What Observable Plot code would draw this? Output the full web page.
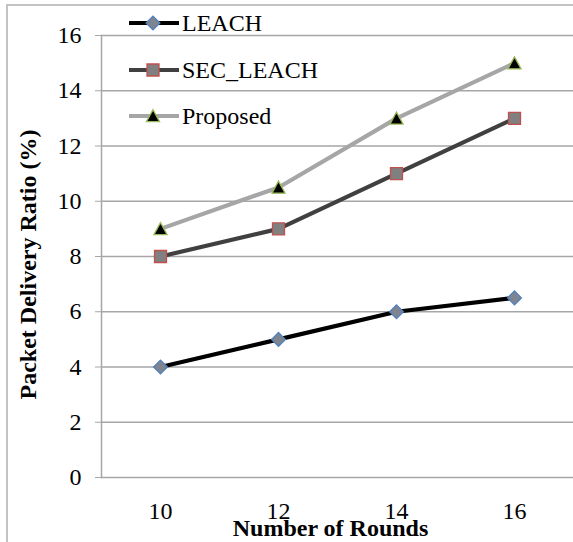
<!DOCTYPE html>
<html>
<head>
<meta charset="utf-8">
<script src="https://cdn.jsdelivr.net/npm/d3@7"></script>
<script src="https://cdn.jsdelivr.net/npm/@observablehq/plot@0.6"></script>
<style>
  html, body { margin: 0; padding: 0; background: #fff; }
  #wrap { position: relative; width: 573px; height: 542px; overflow: hidden; }
  #wrap > svg { position: absolute; left: 0; top: 0; }
  #wrap svg text { font-family: "Liberation Serif", "Times New Roman", serif; }
  #border { position: absolute; left: 6px; top: 4px; right: -10px; bottom: -10px;
            border-left: 2px solid #c3c3c3; border-top: 2px solid #c3c3c3; pointer-events: none; }
</style>
</head>
<body>
<div id="wrap"><div id="border"></div></div>
<script>
const rounds = [10, 12, 14, 16];
const seriesNames = ["LEACH", "SEC_LEACH", "Proposed"];
const leach = [4, 5, 6, 6.5];
const secLeach = [8, 9, 11, 13];
const proposed = [9, 10.5, 13, 15];
const yTicks = [0, 2, 4, 6, 8, 10, 12, 14, 16];
const xTitle = "Number of Rounds";
const yTitle = "Packet Delivery Ratio (%)";

const values = [leach, secLeach, proposed];
const data = [];
seriesNames.forEach((s, i) => rounds.forEach((r, j) => data.push({series: s, round: r, value: values[i][j]})));

// custom symbols (size = pi r^2)
const sq = {draw(ctx, size) { const r = Math.sqrt(size / Math.PI); const h = r; ctx.moveTo(-h, -h); ctx.lineTo(h, -h); ctx.lineTo(h, h); ctx.lineTo(-h, h); ctx.closePath(); }};
const dia = {draw(ctx, size) { const r = Math.sqrt(size / Math.PI) * 1.15; ctx.moveTo(0, -r); ctx.lineTo(r, 0); ctx.lineTo(0, r); ctx.lineTo(-r, 0); ctx.closePath(); }};
const tri = {draw(ctx, size) { const r = Math.sqrt(size / Math.PI); ctx.moveTo(0, -r * 1.05); ctx.lineTo(r * 1.1, r * 0.95); ctx.lineTo(-r * 1.1, r * 0.95); ctx.closePath(); }};

const style = {
  "LEACH":     {line: "#000000", fill: "#7f8590", stroke: "#4f81bd", symbol: dia},
  "SEC_LEACH": {line: "#404040", fill: "#808080", stroke: "#c0504d", symbol: sq},
  "Proposed":  {line: "#a6a6a6", fill: "#000000", stroke: "#9bbb59", symbol: tri}
};

const marks = [
  Plot.gridY(yTicks, {stroke: "#a6a6a6", strokeOpacity: 1, strokeWidth: 1.5}),
  Plot.axisY(yTicks, {tickSize: 6, tickPadding: 14, stroke: "#a6a6a6", fill: "black", label: null, tickFormat: d => String(d)}),
  Plot.frame({anchor: "left", stroke: "#a6a6a6", strokeWidth: 1.5}),
  Plot.axisX({tickSize: 0, tickPadding: 24, fill: "black", label: null})
];
seriesNames.forEach(s => {
  const d = data.filter(e => e.series === s);
  marks.push(Plot.line(d, {x: "round", y: "value", stroke: style[s].line, strokeWidth: 4.2}));
  marks.push(Plot.dot(d, {x: "round", y: "value", r: 6, symbol: () => style[s].symbol, fill: style[s].fill, stroke: style[s].stroke, strokeWidth: 1.3}));
});
marks.push(Plot.text([xTitle], {frameAnchor: "bottom", textAnchor: "middle", lineAnchor: "middle", dx: -7, dy: 51, fontSize: 24, fontWeight: "bold", fill: "black"}));
marks.push(Plot.text([yTitle], {frameAnchor: "left", textAnchor: "middle", lineAnchor: "middle", rotate: -90, dx: -73, dy: 8, fontSize: 24, fontWeight: "bold", fill: "black"}));

const chart = Plot.plot({
  width: 573,
  height: 542,
  marginLeft: 101,
  marginRight: 0,
  marginTop: 35,
  marginBottom: 65,
  style: {fontFamily: "'Liberation Serif', 'Times New Roman', serif", fontSize: "24px", background: "transparent", color: "black"},
  x: {type: "point", domain: rounds, padding: 0.5},
  y: {domain: [0, 16]},
  symbol: {type: "identity"},
  marks
});
const wrap = document.getElementById("wrap");
wrap.insertBefore(chart, wrap.firstChild);

// legend overlay
const leg = d3.select(wrap).append("svg")
  .attr("width", 573).attr("height", 542)
  .style("position", "absolute").style("left", 0).style("top", 0)
  .style("font-size", "24px");
const legY = [23, 70, 116];
seriesNames.forEach((s, i) => {
  const g = leg.append("g").attr("transform", `translate(0,${legY[i]})`);
  g.append("line").attr("x1", 129).attr("x2", 179).attr("y1", 0).attr("y2", 0)
    .attr("stroke", style[s].line).attr("stroke-width", 4.2);
  g.append("path").attr("transform", "translate(153,0)")
    .attr("d", d3.symbol(style[s].symbol, Math.PI * 36)())
    .attr("fill", style[s].fill).attr("stroke", style[s].stroke).attr("stroke-width", 1.3);
  g.append("text").attr("x", 182).attr("y", 0).attr("dy", "0.35em").attr("fill", "black").text(s);
});
</script>
</body>
</html>
